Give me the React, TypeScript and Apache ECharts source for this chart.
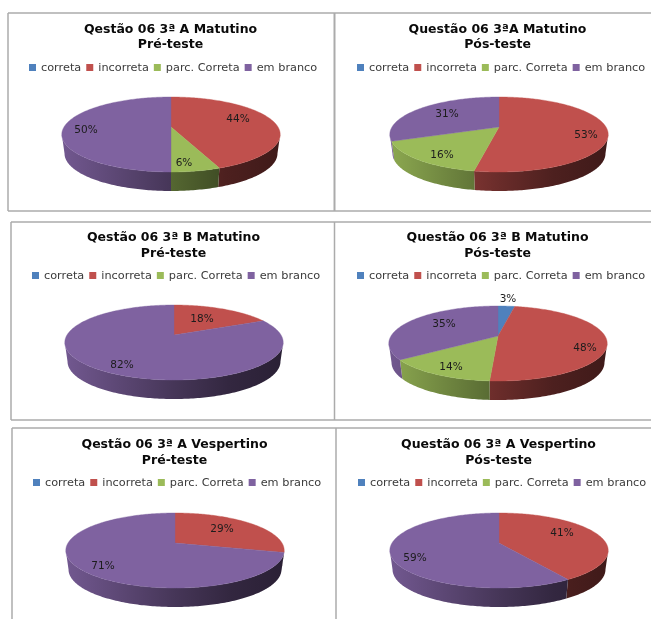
import React, { useEffect, useRef } from "react";
import * as echarts from "echarts";

const categories = ["correta", "incorreta", "parc. Correta", "em branco"];
const colors = ["#4F81BD", "#C0504D", "#9BBB59", "#7F62A0"];

const titles = [
  "Qestão 06 3ª A Matutino\nPré-teste",
  "Questão 06 3ªA Matutino\nPós-teste",
  "Qestão 06 3ª B Matutino\nPré-teste",
  "Questão 06 3ª B Matutino\nPós-teste",
  "Qestão 06 3ª A Vespertino\nPré-teste",
  "Questão 06 3ª A Vespertino\nPós-teste",
];

const a1Pre = [0, 44, 6, 50];
const a1Pos = [0, 53, 16, 31];
const b1Pre = [0, 18, 0, 82];
const b1Pos = [3, 48, 14, 35];
const a2Pre = [0, 29, 0, 71];
const a2Pos = [0, 41, 0, 59];
const panelValues = [a1Pre, a1Pos, b1Pre, b1Pos, a2Pre, a2Pos];

// Layout only: pie apex, title anchor, legend anchor, label offsets from the apex.
const layout = [
  { cx: 171, cy: 127, tx: 170.5, ty: 20.5, lx: 29, ly: 62, labels: [null, [67, -9], [13, 35], [-85, 2]] },
  { cx: 499, cy: 127, tx: 497.5, ty: 20.5, lx: 357, ly: 62, labels: [null, [87, 7], [-57, 27], [-52, -14]] },
  { cx: 174, cy: 335, tx: 173.5, ty: 229, lx: 32, ly: 270, labels: [null, [28, -17], null, [-52, 29]] },
  { cx: 498, cy: 336, tx: 497.5, ty: 229, lx: 357, ly: 270, labels: [[10, -38], [87, 11], [-47, 30], [-54, -13]] },
  { cx: 175, cy: 543, tx: 174.5, ty: 436, lx: 33, ly: 477, labels: [null, [47, -15], null, [-72, 22]] },
  { cx: 499, cy: 543, tx: 498.5, ty: 436, lx: 358, ly: 477, labels: [null, [63, -11], null, [-84, 14]] },
];

const borders = [
  [8, 13, 651, 13, 1.5], [8, 211, 651, 211, 1.5], [8, 13, 8, 211, 1.5], [334.5, 13, 334.5, 211, 2],
  [11, 222, 651, 222, 1.5], [11, 420, 651, 420, 1.5], [11, 222, 11, 420, 1.5], [334.5, 222, 334.5, 420, 1.5],
  [12, 428, 651, 428, 1.5], [12, 428, 12, 619, 1.5], [336, 428, 336, 619, 1.5],
];

const RADIUS = 107;
const TILT = 36;
const PERSPECTIVE = 0.2;
const DEPTH = 19;
const FLOOR_NARROW = 0.975;
const WALL_FROM = 101.5;
const WALL_TO = 258.5;

function project(cx: number, cy: number, deg: number, depth = 0): number[] {
  const t = (deg * Math.PI) / 180;
  const u = Math.sin(t);
  const v = -Math.cos(t);
  const s = 1 / (1 - PERSPECTIVE * v);
  const narrow = depth ? FLOOR_NARROW : 1;
  return [cx + RADIUS * u * s * narrow, cy + TILT * v * s + depth];
}

function shade(hex: string, k: number): string {
  const n = parseInt(hex.slice(1), 16);
  const c = (x: number) => Math.round(x * k);
  return `rgb(${c((n >> 16) & 255)},${c((n >> 8) & 255)},${c(n & 255)})`;
}

function arc(cx: number, cy: number, a: number, b: number, depth = 0): number[][] {
  const pts: number[][] = [];
  const steps = Math.max(2, Math.ceil(b - a));
  for (let i = 0; i <= steps; i++) pts.push(project(cx, cy, a + ((b - a) * i) / steps, depth));
  return pts;
}

function sliceRenderer(panel: number, cat: number) {
  return (_params: any, api: any) => {
    const from = api.value(0) * 3.6;
    const to = api.value(1) * 3.6;
    const value = api.value(2);
    if (!value) return null;
    const { cx, cy, labels } = layout[panel];
    const color = colors[cat];
    const children: any[] = [];
    const wa = Math.max(from, WALL_FROM);
    const wb = Math.min(to, WALL_TO);
    if (wb > wa) {
      const left = project(cx, cy, WALL_TO)[0];
      const right = project(cx, cy, WALL_FROM)[0];
      const fill = {
        type: "linear", global: true, x: left, y: 0, x2: right, y2: 0,
        colorStops: [
          { offset: 0, color: shade(color, 0.9) },
          { offset: 0.5, color: shade(color, 0.55) },
          { offset: 0.75, color: shade(color, 0.4) },
          { offset: 1, color: shade(color, 0.33) },
        ],
      };
      const points = [...arc(cx, cy, wa, wb), ...arc(cx, cy, wa, wb, DEPTH).reverse()];
      children.push({ type: "polygon", z2: 1, shape: { points }, style: { fill } });
    }
    children.push({
      type: "polygon",
      z2: 2,
      shape: { points: [[cx, cy], ...arc(cx, cy, from, to)] },
      style: { fill: color, stroke: color, lineWidth: 0.4 },
    });
    const off = labels[cat];
    if (off) {
      children.push({
        type: "text",
        z2: 10,
        x: cx + off[0],
        y: cy + off[1],
        style: {
          text: `${value}%`,
          fill: "#1c1c1c",
          font: "10.5px 'DejaVu Sans'",
          align: "center",
          verticalAlign: "middle",
        },
      });
    }
    return { type: "group", children };
  };
}

function buildOption() {
  const series: any[] = [];
  panelValues.forEach((values, p) => {
    let acc = 0;
    values.forEach((v, c) => {
      series.push({
        type: "custom",
        name: categories[c],
        coordinateSystem: "none",
        silent: true,
        itemStyle: { color: colors[c] },
        renderItem: sliceRenderer(p, c),
        data: [[acc, acc + v, v]],
      });
      acc += v;
    });
  });
  return {
    animation: false,
    backgroundColor: "#ffffff",
    title: titles.map((text, i) => ({
      text,
      left: layout[i].tx,
      top: layout[i].ty,
      textAlign: "center",
      padding: 0,
      textStyle: {
        fontFamily: "DejaVu Sans",
        fontSize: 12.5,
        fontWeight: "bold",
        color: "#0a0a0a",
        lineHeight: 15.5,
      },
    })),
    legend: layout.map((l) => ({
      data: categories,
      left: l.lx,
      top: l.ly,
      padding: 0,
      icon: "rect",
      itemWidth: 7,
      itemHeight: 7,
      itemGap: 5,
      selectedMode: false,
      textStyle: { fontFamily: "DejaVu Sans", fontSize: 11.3, color: "#3a3a3a" },
    })),
    graphic: borders.map(([x1, y1, x2, y2, w]) => ({
      type: "line",
      shape: { x1, y1, x2, y2 },
      style: { stroke: "#ababab", lineWidth: w },
      silent: true,
    })),
    series,
  };
}

export default function App() {
  const ref = useRef<HTMLDivElement>(null);
  useEffect(() => {
    const chart = echarts.init(ref.current!, null, { renderer: "svg" });
    chart.setOption(buildOption());
    return () => chart.dispose();
  }, []);
  return (
    <div
      ref={ref}
      style={{ position: "absolute", left: 0, top: 0, width: 651, height: 619, filter: "blur(0.45px)" }}
    />
  );
}
